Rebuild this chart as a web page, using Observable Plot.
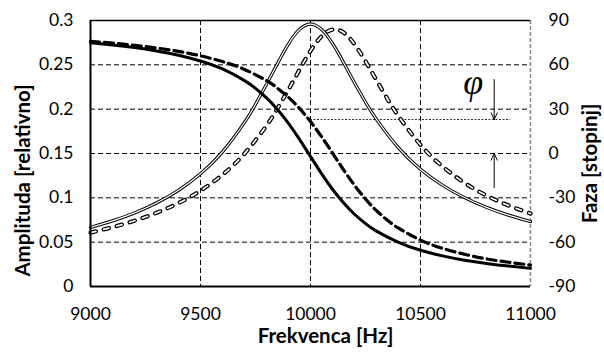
<!DOCTYPE html>
<html><head><meta charset="utf-8">
<script src="https://cdn.jsdelivr.net/npm/d3@7"></script>
<script src="https://cdn.jsdelivr.net/npm/@observablehq/plot@0.6"></script>
<style>body{margin:0;background:#fff;}</style>
</head><body><div id="chart"></div>
<script>
const xTicks = [9000, 9500, 10000, 10500, 11000];
const ampTicks = [0, 0.05, 0.1, 0.15, 0.2, 0.25, 0.3];
const phaseTicks = [-90, -60, -30, 0, 30, 60, 90];

const freqSolid = [9000,9100,9200,9300,9400,9500,9600,9700,9750,9800,9850,9900,9950,10000,10050,10100,10150,10200,10250,10300,10400,10500,10600,10700,10800,10900,11000];
const ampSolid = [0.0666,0.0740,0.0830,0.0942,0.1085,0.1271,0.1518,0.1850,0.2054,0.2280,0.2516,0.2737,0.2899,0.2960,0.2900,0.2741,0.2527,0.2298,0.2080,0.1884,0.1563,0.1323,0.1142,0.1003,0.0893,0.0805,0.0733];
const phaseSolid = [75.0,73.5,71.7,69.4,66.5,62.6,57.2,49.3,44.1,37.6,29.8,20.4,9.6,-2.0,-13.6,-24.2,-33.4,-41.1,-47.4,-52.5,-60.1,-65.5,-69.3,-72.2,-74.4,-76.2,-77.7];

const freqDashed = [9000,9100,9200,9300,9400,9500,9600,9700,9800,9850,9900,9950,10000,10050,10100,10150,10200,10250,10300,10350,10400,10500,10600,10700,10800,10900,11000];
const ampDashed = [0.0608,0.0669,0.0742,0.0831,0.0941,0.1080,0.1261,0.1499,0.1815,0.2008,0.2221,0.2445,0.2657,0.2821,0.2898,0.2865,0.2733,0.2541,0.2326,0.2115,0.1921,0.1598,0.1354,0.1169,0.1026,0.0914,0.0823];
const phaseDashed = [75.9,74.7,73.2,71.4,69.1,66.1,62.2,56.9,49.3,44.2,38.0,30.5,21.6,11.4,0.3,-11.0,-21.5,-30.8,-38.7,-45.2,-50.5,-58.6,-64.2,-68.2,-71.3,-73.6,-75.5];

// annotation (phase difference φ)
const phiLevels = [23, 0];
const phiLineFreq = [10000, 10910];
const phiArrows = [{f: 10835, from: 50, to: 23}, {f: 10835, from: -23, to: 0}];
const phiLabel = [{f: 10740, phase: 48, t: "φ"}];

const toAmp = p => (p + 90) / 600;
const solid = freqSolid.map((f, i) => ({f, amp: ampSolid[i], phase: phaseSolid[i]}));
const dashed = freqDashed.map((f, i) => ({f, amp: ampDashed[i], phase: phaseDashed[i]}));

const chart = Plot.plot({
  width: 604, height: 356,
  marginLeft: 90, marginRight: 74, marginTop: 20, marginBottom: 70,
  x: {domain: [9000, 11000]},
  y: {domain: [0, 0.3]},
  style: {fontFamily: "Lato, sans-serif", fontSize: "17.5px", color: "#000", background: "#fff"},
  marks: [
    Plot.gridX(xTicks.slice(1, -1), {stroke: "#000", strokeOpacity: 1, strokeWidth: 1, strokeDasharray: "5,3"}),
    Plot.gridY(ampTicks.slice(1, -1), {stroke: "#000", strokeOpacity: 1, strokeWidth: 1, strokeDasharray: "5,3"}),
    Plot.ruleX([11000], {stroke: "#888", strokeWidth: 1.5, strokeDasharray: "4,2"}),
    Plot.ruleY([0.3], {stroke: "#000", strokeWidth: 1.5}),
    // phase difference annotation
    Plot.ruleY([phiLevels[0]], {y: toAmp, x1: phiLineFreq[0], x2: phiLineFreq[1], stroke: "#333", strokeWidth: 1, strokeDasharray: "2,1.5"}),
    Plot.arrow(phiArrows, {x1: "f", x2: "f", y1: d => toAmp(d.from), y2: d => toAmp(d.to), stroke: "#000", strokeWidth: 1, headLength: 11, headAngle: 50}),
    Plot.text(phiLabel, {x: "f", y: d => toAmp(d.phase), text: "t", fontFamily: "Liberation Serif, DejaVu Serif, serif", fontStyle: "italic", fontSize: 36}),
    // amplitude curves (double lines)
    Plot.line(dashed, {x: "f", y: "amp", curve: "natural", stroke: "#000", strokeWidth: 4.2, strokeDasharray: "5.5,8", strokeLinecap: "round"}),
    Plot.line(dashed, {x: "f", y: "amp", curve: "natural", stroke: "#fff", strokeWidth: 1.7, strokeDasharray: "5.5,8", strokeLinecap: "round"}),
    Plot.line(solid, {x: "f", y: "amp", curve: "natural", stroke: "#000", strokeWidth: 3.2}),
    Plot.line(solid, {x: "f", y: "amp", curve: "natural", stroke: "#fff", strokeWidth: 1.2}),
    // phase curves
    Plot.line(dashed, {x: "f", y: d => toAmp(d.phase), curve: "natural", stroke: "#000", strokeWidth: 3.2, strokeDasharray: "9,5"}),
    Plot.line(solid, {x: "f", y: d => toAmp(d.phase), curve: "natural", stroke: "#000", strokeWidth: 3}),
    // frame
    Plot.ruleX([9000], {stroke: "#000", strokeWidth: 2}),
    Plot.ruleY([0], {stroke: "#000", strokeWidth: 2}),
    // axes
    Plot.axisX(xTicks, {tickSize: 0, tickPadding: 21, label: null, tickFormat: d => String(d)}),
    Plot.axisY(ampTicks, {anchor: "left", tickSize: 0, tickPadding: 17, label: null, tickFormat: d => String(d)}),
    Plot.axisY(phaseTicks.map(toAmp), {anchor: "right", tickSize: 0, tickPadding: 18, label: null, tickFormat: v => String(Math.round(v * 600 - 90))}),
    Plot.text(["Frekvenca [Hz]"], {frameAnchor: "bottom", textAnchor: "middle", dx: 15, dy: 56, text: d => d, fontWeight: "bold", fontSize: 20.5}),
    Plot.text(["Amplituda [relativno]"], {frameAnchor: "left", textAnchor: "middle", rotate: -90, dx: -67, dy: 27, text: d => d, fontWeight: "bold", fontSize: 20.5}),
    Plot.text(["Faza [stopinj]"], {frameAnchor: "right", textAnchor: "middle", rotate: -90, dx: 60, dy: 10, text: d => d, fontWeight: "bold", fontSize: 20.5})
  ]
});
document.getElementById("chart").appendChild(chart);
</script>
</body></html>
